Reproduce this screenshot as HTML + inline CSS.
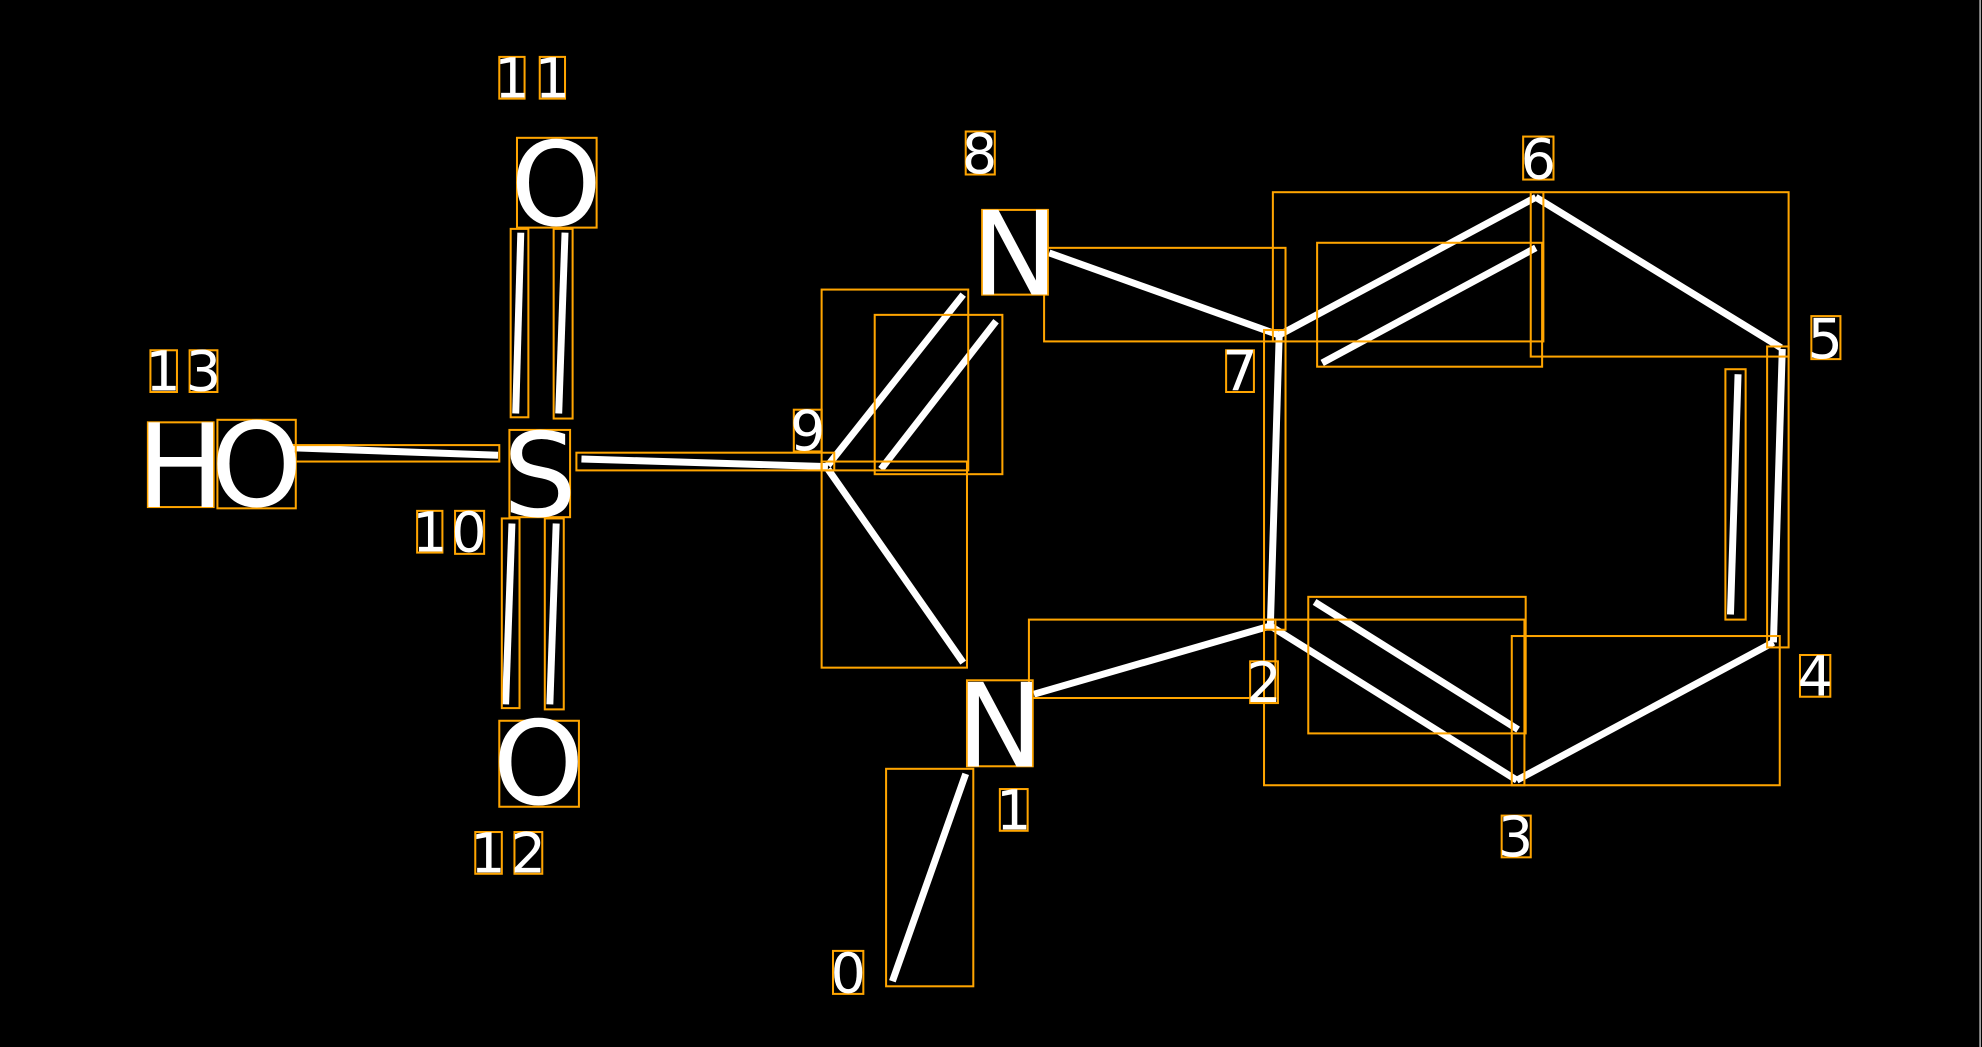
<!DOCTYPE html>
<html><head><meta charset="utf-8"><style>
html,body{margin:0;padding:0;background:#000;width:1982px;height:1047px;overflow:hidden}
svg{display:block}
text{font-family:"DejaVu Sans","Liberation Sans",sans-serif;fill:#fff}
</style></head><body>
<svg width="1982" height="1047" viewBox="0 0 1568 828" preserveAspectRatio="none" xmlns="http://www.w3.org/2000/svg">
<rect width="1568" height="828" fill="#000"/>
<line x1="1566.5" y1="0" x2="1566.5" y2="828" stroke="#ddd" stroke-width="1"/>
<g stroke="#fff" stroke-width="5.5" stroke-linecap="butt" fill="none">
<line x1="228" y1="354" x2="394" y2="360"/>
<line x1="460" y1="363" x2="655" y2="369"/>
<line x1="412" y1="184" x2="408" y2="327"/>
<line x1="447" y1="184" x2="442" y2="327"/>
<line x1="405" y1="414" x2="400" y2="557"/>
<line x1="440" y1="414" x2="435" y2="557"/>
<line x1="655" y1="368" x2="762" y2="233"/>
<line x1="697" y1="371" x2="788" y2="254"/>
<line x1="655" y1="371" x2="762" y2="524"/>
<line x1="830" y1="200" x2="1012" y2="265"/>
<line x1="1012" y1="265" x2="1215" y2="156"/>
<line x1="1046" y1="287" x2="1215" y2="196"/>
<line x1="1215" y1="156" x2="1409" y2="275"/>
<line x1="1410" y1="276" x2="1403" y2="508"/>
<line x1="1375" y1="296" x2="1369" y2="486"/>
<line x1="1403" y1="508" x2="1200" y2="617"/>
<line x1="1200" y1="617" x2="1005" y2="495"/>
<line x1="1201" y1="577" x2="1040" y2="476"/>
<line x1="1005" y1="495" x2="1012" y2="265"/>
<line x1="1005" y1="495" x2="818" y2="549"/>
<line x1="764" y1="612" x2="706" y2="776"/>
</g>
<g stroke="#ffa500" stroke-width="1.6" fill="none">
<rect x="226" y="352" width="169" height="13"/>
<rect x="456" y="358" width="204" height="14"/>
<rect x="404" y="181" width="14" height="149"/>
<rect x="438" y="181" width="15" height="150"/>
<rect x="397" y="410" width="14" height="150"/>
<rect x="431" y="410" width="15" height="151"/>
<rect x="650" y="229" width="116" height="143"/>
<rect x="692" y="249" width="101" height="126"/>
<rect x="650" y="365" width="115" height="163"/>
<rect x="826" y="196" width="191" height="74"/>
<rect x="1007" y="152" width="214" height="118"/>
<rect x="1042" y="192" width="178" height="98"/>
<rect x="1211" y="152" width="204" height="130"/>
<rect x="1398" y="274" width="17" height="238"/>
<rect x="1365" y="292" width="16" height="198"/>
<rect x="1196" y="503" width="212" height="118"/>
<rect x="1000" y="490" width="206" height="131"/>
<rect x="1035" y="472" width="172" height="108"/>
<rect x="1000" y="261" width="17" height="237"/>
<rect x="814" y="490" width="195" height="62"/>
<rect x="701" y="608" width="69" height="172"/>
<rect x="409" y="109" width="63" height="71"/>
<rect x="117" y="334" width="52" height="67"/>
<rect x="172" y="332" width="62" height="70"/>
<rect x="403" y="340" width="48" height="69"/>
<rect x="395" y="570" width="63" height="68"/>
<rect x="777" y="166" width="52" height="67"/>
<rect x="765" y="538" width="52" height="68"/>
<rect x="395" y="45" width="20" height="33"/><rect x="427" y="45" width="20" height="33"/>
<rect x="764" y="104" width="23" height="34"/>
<rect x="1205" y="108" width="24" height="34"/>
<rect x="119" y="277" width="21" height="33"/><rect x="150" y="277" width="22" height="33"/>
<rect x="628" y="324" width="22" height="33"/>
<rect x="970" y="277" width="22" height="33"/>
<rect x="1433" y="250" width="23" height="34"/>
<rect x="330" y="404" width="20" height="33"/><rect x="360" y="404" width="23" height="34"/>
<rect x="1424" y="518" width="24" height="33"/>
<rect x="989" y="523" width="22" height="33"/>
<rect x="791" y="624" width="22" height="33"/>
<rect x="1188" y="645" width="23" height="33"/>
<rect x="376" y="658" width="21" height="33"/><rect x="407" y="658" width="22" height="33"/>
<rect x="659" y="752" width="24" height="34"/>
</g>
<g font-size="92" text-anchor="middle">
<text x="440" y="178">O</text>
<text x="143" y="401">H</text>
<text x="203" y="400">O</text>
<text x="427" y="408">S</text>
<text x="426" y="636">O</text>
<text x="803" y="233">N</text>
<text x="791" y="606">N</text>
</g>
<g font-size="44" text-anchor="middle">
<text x="405" y="77">1</text><text x="437" y="77">1</text>
<text x="775" y="137">8</text>
<text x="1217" y="141">6</text>
<text x="129" y="309">1</text><text x="161" y="309">3</text>
<text x="639" y="356">9</text>
<text x="981" y="309">7</text>
<text x="1444" y="283">5</text>
<text x="340" y="436">1</text><text x="371" y="436">0</text>
<text x="1436" y="550">4</text>
<text x="1000" y="555">2</text>
<text x="802" y="656">1</text>
<text x="1199" y="677">3</text>
<text x="386" y="690">1</text><text x="418" y="690">2</text>
<text x="671" y="785">0</text>
</g>
</svg>
</body></html>
